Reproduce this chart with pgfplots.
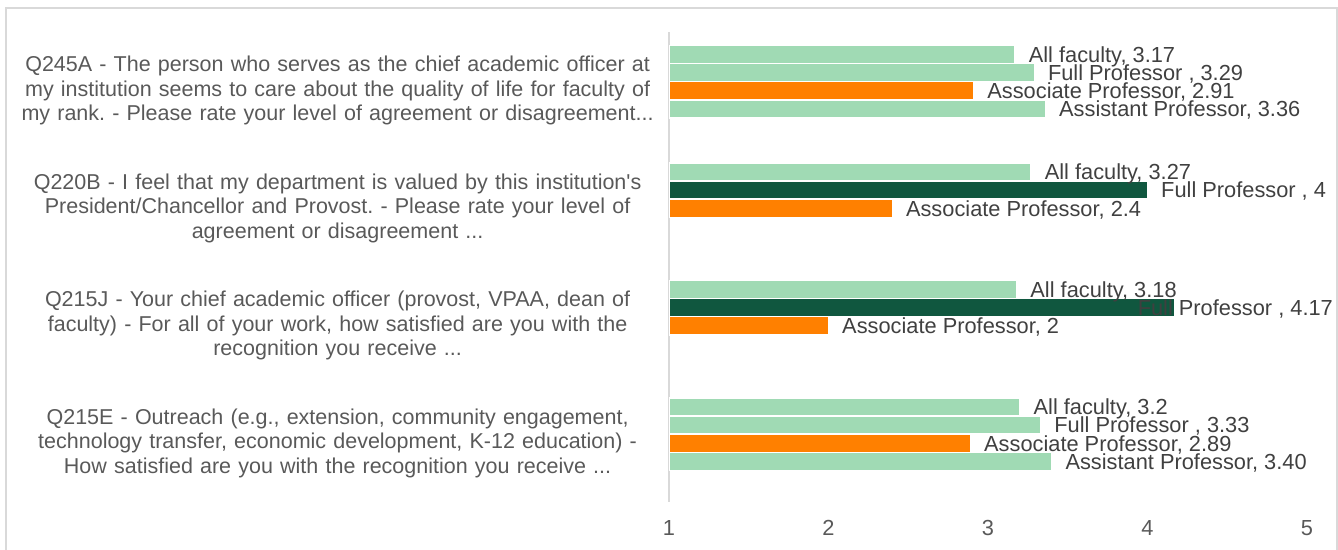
\documentclass[border=0pt]{standalone}
\usepackage{fontspec}
\setmainfont{Liberation Sans}
\usepackage{pgfplots}
\pgfplotsset{compat=1.18}
\definecolor{lgreen}{HTML}{A0DAB4}
\definecolor{dgreen}{HTML}{10573F}
\definecolor{orng}{HTML}{FF8000}
\definecolor{txt}{HTML}{595959}
\definecolor{lbl}{HTML}{404040}
\definecolor{brd}{HTML}{D9D9D9}
\def\ddd{...}
\frenchspacing
\begin{document}
\begin{tikzpicture}
\useasboundingbox (0,0) rectangle (669pt,-275pt);
\draw[brd, line width=0.75pt] (3pt,-280pt) -- (3pt,-4pt) -- (668.5pt,-4pt) -- (668.5pt,-280pt);
\begin{axis}[
  at={(334.5pt,-251pt)}, anchor=south west,
  scale only axis, width=334.95pt, height=235pt,
  xmin=1, xmax=5.2, ymin=-0.5, ymax=3.5, y dir=reverse,
  xbar, bar width=9.04pt, bar shift=0pt,
  separate axis lines,
  axis x line*=bottom, axis y line*=left,
  x axis line style={draw=none},
  y axis line style={draw=brd, line width=0.75pt},
  major tick length=0pt,
  xtick style={draw=none}, ytick style={draw=none},
  xtick={1,2,3,4,5},
  /pgf/number format/assume math mode=true,
  xticklabel style={font={\fontsize{10.9pt}{12.3pt}\selectfont}, text=txt, anchor=base, yshift=-16.5pt},
  ytick={0,1,2,3},
  yticklabels={
    {Q245A - The person who serves as the chief academic officer at\\my institution seems to care about the quality of life for faculty of\\my rank. - Please rate your level of agreement or disagreement\ddd},
    {Q220B - I feel that my department is valued by this institution\textquotesingle s\\President/Chancellor and Provost. - Please rate your level of\\agreement or disagreement \ddd},
    {Q215J - Your chief academic officer (provost, VPAA, dean of\\faculty) - For all of your work, how satisfied are you with the\\recognition you receive \ddd},
    {Q215E - Outreach (e.g., extension, community engagement,\\technology transfer, economic development, K-12 education) -\\How satisfied are you with the recognition you receive \ddd}
  },
  yticklabel style={font={\fontsize{10.75pt}{12.2pt}\selectfont}, text=txt, align=center, text width=340pt, anchor=east, inner sep=0pt, xshift=4.5pt},
  point meta=explicit symbolic,
  nodes near coords,
  every node near coord/.append style={font={\fontsize{10.9pt}{12.3pt}\selectfont}, text=lbl, anchor=base west, inner sep=0pt, xshift=6.5pt, yshift=-3.9pt},
  every axis plot/.append style={draw=white, line width=0.75pt},
]
\addplot[fill=lgreen] coordinates {
  (3.17,-0.3077) [All faculty, 3.17]
  (3.27,0.6923) [All faculty, 3.27]
  (3.18,1.6923) [All faculty, 3.18]
  (3.2,2.6923) [All faculty, 3.2]
};
\addplot[fill=lgreen] coordinates {
  (3.29,-0.1538) [Full Professor , 3.29]
  (3.33,2.8462) [Full Professor , 3.33]
};
\addplot[fill=dgreen] coordinates {
  (4,0.8462) [Full Professor , 4]
};
\addplot[fill=dgreen, every node near coord/.append style={xshift=-25.3pt}] coordinates {
  (4.17,1.8462) [Full Professor , 4.17]
};
\addplot[fill=orng] coordinates {
  (2.91,0) [Associate Professor, 2.91]
  (2.4,1) [Associate Professor, 2.4]
  (2,2) [Associate Professor, 2]
  (2.89,3) [Associate Professor, 2.89]
};
\addplot[fill=lgreen] coordinates {
  (3.36,0.1538) [Assistant Professor, 3.36]
  (3.40,3.1538) [Assistant Professor, 3.40]
};
\end{axis}
\end{tikzpicture}
\end{document}
